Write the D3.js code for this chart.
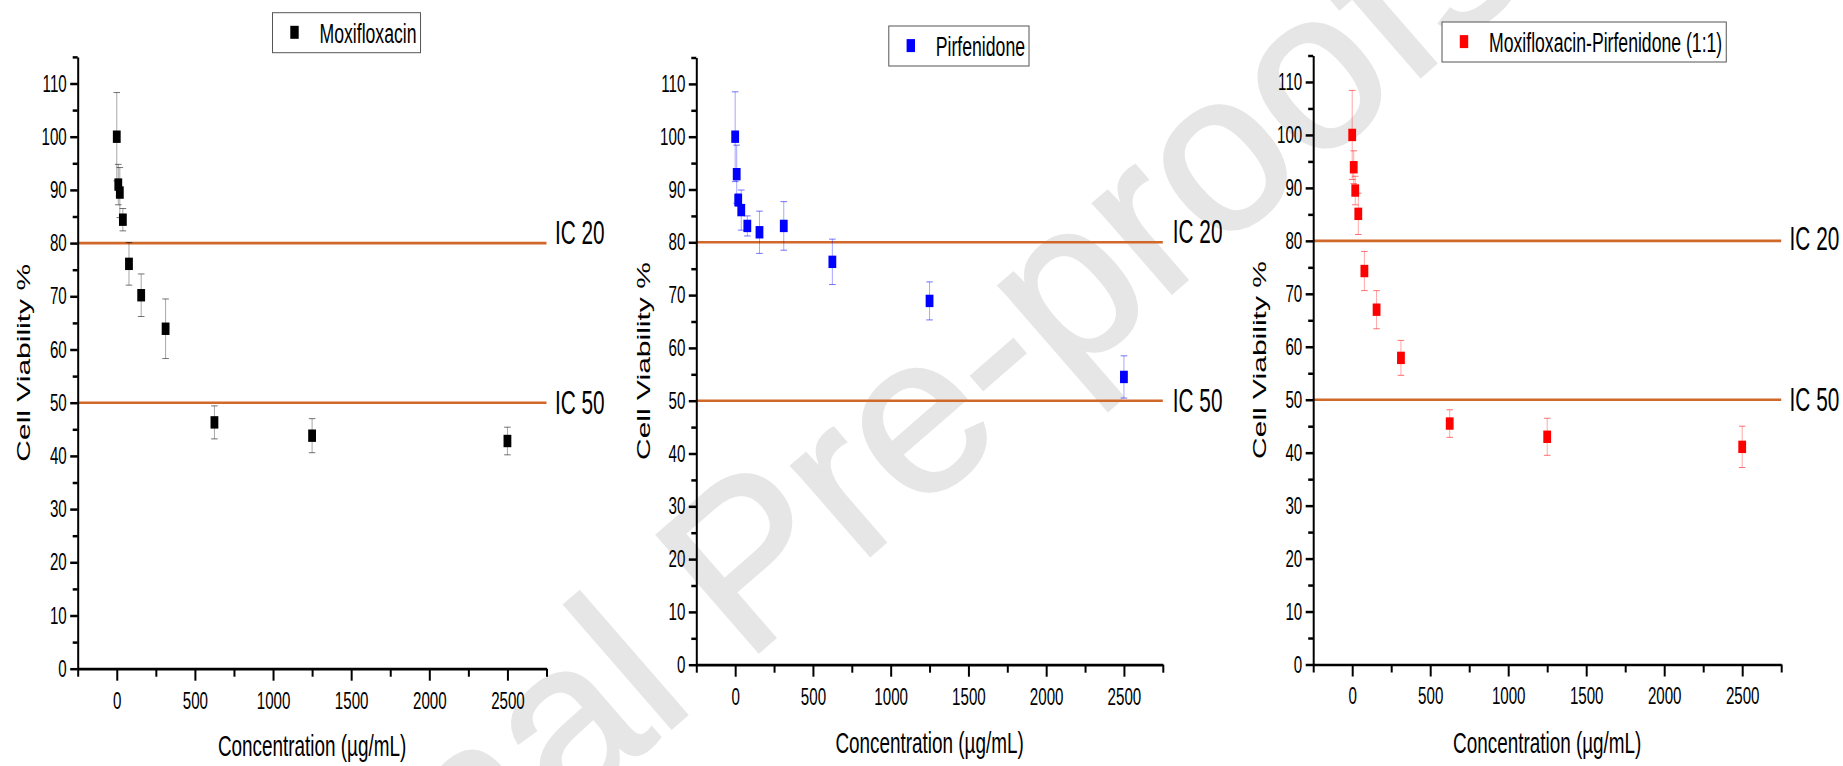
<!DOCTYPE html>
<html><head><meta charset="utf-8">
<script src="https://cdn.jsdelivr.net/npm/d3@7"></script>
<style>
html,body{margin:0;padding:0;background:#fff;}
svg{display:block;}
text{font-family:"Liberation Sans",Arial,Helvetica,sans-serif;fill:#000;}
</style></head><body>
<svg id="chart" width="1843" height="766"></svg>
<script>
// ---------- DATA ----------
const concentrations = [0, 9.77, 19.53, 39.06, 78.13, 156.25, 312.5, 625, 1250, 2500];
const moxifloxacin    = [100, 91.0, 89.5, 84.4, 76.1, 70.2, 63.9, 46.3, 43.8, 42.8];
const moxifloxacinErr = [8.3, 3.8, 4.7, 2.1, 4.0, 4.0, 5.6, 3.1, 3.2, 2.6];
const pirfenidone     = [100, 92.9, 88.0, 86.1, 83.1, 81.9, 83.1, 76.3, 68.9, 54.5];
const pirfenidoneErr  = [8.5, 5.5, 1.2, 3.8, 1.9, 4.0, 4.6, 4.3, 3.6, 4.0];
const combination     = [100, 93.9, 89.5, 85.1, 74.3, 67.0, 57.9, 45.5, 43.0, 41.1];
const combinationErr  = [8.4, 3.1, 2.7, 3.9, 3.7, 3.6, 3.3, 2.6, 3.5, 3.9];

const seriesNames  = ["Moxifloxacin", "Pirfenidone", "Moxifloxacin-Pirfenidone (1:1)"];
const seriesColors = ["#000000", "#0000FF", "#FF0000"];
const seriesValues = [moxifloxacin, pirfenidone, combination];
const seriesErrors = [moxifloxacinErr, pirfenidoneErr, combinationErr];

const xTickValues = [0, 500, 1000, 1500, 2000, 2500];
const xMinorTicks = [-250, 250, 750, 1250, 1750, 2250, 2750];
const yTickValues = [0, 10, 20, 30, 40, 50, 60, 70, 80, 90, 100, 110];
const yMinorTicks = [5, 15, 25, 35, 45, 55, 65, 75, 85, 95, 105, 115];
const xDomain = [-250, 2750];
const yDomain = [0, 115];
const icLevels = [80, 50];
const icLabels = ["IC 20", "IC 50"];
const xTitle = "Concentration (\u00B5g/mL)";
const yTitle = "Cell Viability %";
const watermarkText = "Journal Pre-proofs";

// ---------- LAYOUT ----------
const SX = 0.63; // horizontal text compression seen in the figure
const panels = [
  {x: [77.7, 546.5], y: [668.7, 56.9], legend: [272.5, 12.7], yTitleX: 30, xTitleY: 756, icX: 555, icDy: [1, 11]},
  {x: [696.3, 1162.8], y: [664.7, 57.5], legend: [888.8, 26], yTitleX: 650, xTitleY: 753, icX: 1172.8, icDy: [1, 11]},
  {x: [1313.2, 1781.2], y: [664.5, 55.5], legend: [1442, 22], yTitleX: 1266, xTitleY: 753, icX: 1789.6, icDy: [9, 11]}
];
const icColor = "#D0682A";
const fmt = d3.format("d");

const svg = d3.select("#chart");

// watermark (behind everything)
svg.append("text")
  .attr("transform", "translate(141,1189) rotate(-41)")
  .attr("font-size", 225)
  .style("fill", "#e6e6e6")
  .style("stroke", "#e6e6e6")
  .style("stroke-width", 3)
  .text(watermarkText);

panels.forEach((p, i) => {
  const g = svg.append("g");
  const x = d3.scaleLinear().domain(xDomain).range(p.x);
  const y = d3.scaleLinear().domain(yDomain).range(p.y);
  const color = seriesColors[i];
  const vals = seriesValues[i];
  const errs = seriesErrors[i];

  // IC lines
  icLevels.forEach((lv, k) => {
    g.append("line")
      .attr("x1", p.x[0]).attr("x2", p.x[1])
      .attr("y1", y(lv)).attr("y2", y(lv))
      .attr("stroke", icColor).attr("stroke-width", 2.6);
    g.append("text")
      .attr("transform", `translate(${p.icX},${y(lv) + p.icDy[k]}) scale(${SX},1)`)
      .attr("font-size", 33)
      .text(icLabels[k]);
  });

  // x axis
  const xAxisG = g.append("g").attr("transform", `translate(0,${p.y[0]})`);
  xAxisG.call(d3.axisBottom(x).tickValues(xTickValues).tickFormat(fmt).tickSize(12).tickSizeOuter(0));
  xAxisG.select(".domain").attr("stroke-width", 2.7);
  xAxisG.selectAll(".tick line").attr("stroke-width", 2);
  xAxisG.selectAll(".tick text")
    .attr("y", 40).attr("dy", 0)
    .attr("transform", `scale(${SX},1)`)
    .attr("font-size", 24).attr("font-family", null).style("fill", "#000");
  const xMinorG = g.append("g").attr("transform", `translate(0,${p.y[0]})`);
  xMinorG.call(d3.axisBottom(x).tickValues(xMinorTicks).tickSize(8).tickFormat(""));
  xMinorG.select(".domain").remove();
  xMinorG.selectAll(".tick line").attr("stroke-width", 2);

  // y axis
  const yAxisG = g.append("g").attr("transform", `translate(${p.x[0]},0)`);
  yAxisG.call(d3.axisLeft(y).tickValues(yTickValues).tickFormat(fmt).tickSize(7.5).tickSizeOuter(0));
  yAxisG.select(".domain").attr("stroke-width", 2);
  yAxisG.selectAll(".tick line").attr("stroke-width", 2.5);
  yAxisG.selectAll(".tick text")
    .attr("x", -11 / SX)
    .attr("transform", `scale(${SX},1)`)
    .attr("font-size", 24).attr("font-family", null).style("fill", "#000");
  const yMinorG = g.append("g").attr("transform", `translate(${p.x[0]},0)`);
  yMinorG.call(d3.axisLeft(y).tickValues(yMinorTicks).tickSize(5).tickFormat(""));
  yMinorG.select(".domain").remove();
  yMinorG.selectAll(".tick line").attr("stroke-width", 2.5);

  // axis titles
  g.append("text")
    .attr("transform", `translate(${(p.x[0] + p.x[1]) / 2},${p.xTitleY}) scale(${SX},1)`)
    .attr("text-anchor", "middle").attr("font-size", 30)
    .text(xTitle);
  g.append("text")
    .attr("transform", `translate(${p.yTitleX},${(p.y[0] + p.y[1]) / 2}) rotate(-90) scale(1,${SX})`)
    .attr("text-anchor", "middle").attr("font-size", 30)
    .text(yTitle);

  // data
  const pts = concentrations.map((c, j) => ({c, v: vals[j], e: errs[j]}));
  const capW = 6.6;
  const eb = g.append("g").attr("stroke", color);
  eb.selectAll("line.v").data(pts).join("line").attr("class", "v")
    .attr("x1", d => x(d.c)).attr("x2", d => x(d.c))
    .attr("y1", d => y(d.v + d.e)).attr("y2", d => y(d.v - d.e))
    .attr("stroke-width", 1).attr("stroke-opacity", 0.35);
  eb.selectAll("line.t").data(pts).join("line").attr("class", "t")
    .attr("x1", d => x(d.c) - capW / 2).attr("x2", d => x(d.c) + capW / 2)
    .attr("y1", d => y(d.v + d.e)).attr("y2", d => y(d.v + d.e))
    .attr("stroke-width", 1).attr("stroke-opacity", 0.55);
  eb.selectAll("line.b").data(pts).join("line").attr("class", "b")
    .attr("x1", d => x(d.c) - capW / 2).attr("x2", d => x(d.c) + capW / 2)
    .attr("y1", d => y(d.v - d.e)).attr("y2", d => y(d.v - d.e))
    .attr("stroke-width", 1).attr("stroke-opacity", 0.55);

  const mw = 7.8, mh = 12.4;
  g.append("g").selectAll("rect").data(pts).join("rect")
    .attr("x", d => x(d.c) - mw / 2).attr("y", d => y(d.v) - mh / 2)
    .attr("width", mw).attr("height", mh)
    .attr("fill", color);

  // legend
  const lg = g.append("g").attr("transform", `translate(${p.legend[0]},${p.legend[1]})`);
  const box = lg.append("rect").attr("height", 40)
    .attr("fill", "#fff").attr("stroke", "#555").attr("stroke-width", 1);
  lg.append("rect").attr("x", 22 - 4.2).attr("y", 19.6 - 6.5)
    .attr("width", 8.4).attr("height", 13).attr("fill", color);
  const lt = lg.append("text")
    .attr("transform", `translate(47,30) scale(${SX},1)`)
    .attr("font-size", 28)
    .text(seriesNames[i]);
  const tw = lt.node().getComputedTextLength() * SX;
  box.attr("width", 47 + tw + 4);
});
</script>
</body></html>
